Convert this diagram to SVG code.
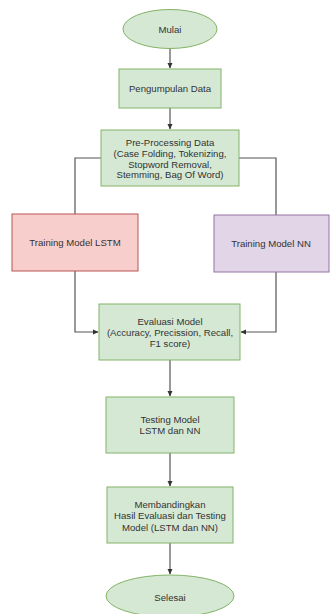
<svg xmlns="http://www.w3.org/2000/svg" width="330" height="614" viewBox="0 0 330 614">
<style>
.g{fill:#d5e8d4;stroke:#82b366;stroke-width:1}
.r{fill:#f8cecc;stroke:#b85450;stroke-width:1}
.p{fill:#e1d5e7;stroke:#9673a6;stroke-width:1}
.t{font-family:"Liberation Sans",Arial,sans-serif;font-size:9.6px;fill:#333;text-anchor:middle}
.c{fill:none;stroke:#555;stroke-width:1.2}
</style>
<defs>
<marker id="a" markerWidth="6" markerHeight="6" refX="5" refY="3" orient="auto" markerUnits="userSpaceOnUse">
<path d="M0,0.5 L5.5,3 L0,5.5 Z" fill="#333"/>
</marker>
</defs>
<rect width="330" height="614" fill="#fff"/>
<g id="connectors">
<path class="c" d="M170,48 V68" marker-end="url(#a)"/>
<path class="c" d="M170,108 V129" marker-end="url(#a)"/>
<path class="c" d="M101,158 H75 V214"/>
<path class="c" d="M239,158 H276 V215"/>
<path class="c" d="M75,271 V332 H98" marker-end="url(#a)"/>
<path class="c" d="M276,272 V332 H241" marker-end="url(#a)"/>
<path class="c" d="M170,360 V396" marker-end="url(#a)"/>
<path class="c" d="M170,453 V486" marker-end="url(#a)"/>
<path class="c" d="M170,543 V574" marker-end="url(#a)"/>
</g>
<g id="mulai">
<ellipse class="g" cx="170" cy="29" rx="47" ry="19.5"/>
<text class="t" x="170" y="32.5">Mulai</text>
</g>
<g id="pengumpulan">
<rect class="g" x="119" y="69" width="102" height="39"/>
<text class="t" x="170" y="92">Pengumpulan Data</text>
</g>
<g id="preprocessing">
<rect class="g" x="101" y="130" width="138" height="56"/>
<text class="t" x="170" y="146">Pre-Processing Data</text>
<text class="t" x="170" y="157">(Case Folding, Tokenizing,</text>
<text class="t" x="170" y="167.5">Stopword Removal,</text>
<text class="t" x="170" y="178">Stemming, Bag Of Word)</text>
</g>
<g id="lstm">
<rect class="r" x="12" y="214" width="126" height="57"/>
<text class="t" x="75" y="246">Training Model LSTM</text>
</g>
<g id="nn">
<rect class="p" x="214" y="215" width="115" height="57"/>
<text class="t" x="271" y="247">Training Model NN</text>
</g>
<g id="evaluasi">
<rect class="g" x="99" y="304" width="141" height="56"/>
<text class="t" x="170" y="324.5">Evaluasi Model</text>
<text class="t" x="170" y="335.5">(Accuracy, Precission, Recall,</text>
<text class="t" x="170" y="346.5">F1 score)</text>
</g>
<g id="testing">
<rect class="g" x="106" y="397" width="128" height="56"/>
<text class="t" x="170" y="422.5">Testing Model</text>
<text class="t" x="170" y="433.5">LSTM dan NN</text>
</g>
<g id="membandingkan">
<rect class="g" x="107" y="487" width="126" height="56"/>
<text class="t" x="170" y="507.5">Membandingkan</text>
<text class="t" x="170" y="519">Hasil Evaluasi dan Testing</text>
<text class="t" x="170" y="530.5">Model (LSTM dan NN)</text>
</g>
<g id="selesai">
<ellipse class="g" cx="170" cy="596" rx="64" ry="21"/>
<text class="t" x="170" y="601">Selesai</text>
</g>
</svg>
